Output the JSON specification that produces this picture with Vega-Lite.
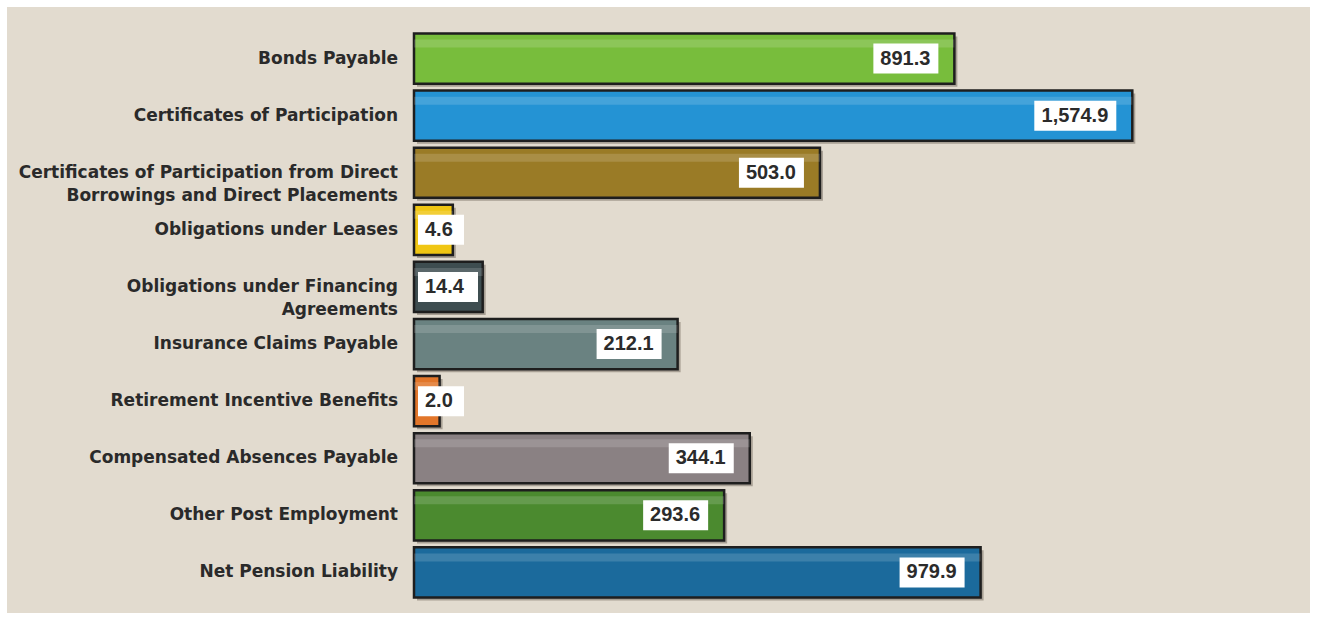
{
  "$schema": "https://vega.github.io/schema/vega-lite/v6.json",
  "width": 1317,
  "height": 620,
  "autosize": "none",
  "padding": 0,
  "background": "#ffffff",
  "config": {"view": {"fill": "#e2dbcf", "stroke": "#ffffff", "strokeWidth": 14}},
  "data": {"values": [
    {"category": "Bonds  Payable", "value": 891.3},
    {"category": "Certificates of Participation", "value": 1574.9},
    {"category": "Certificates of Participation from Direct\nBorrowings and Direct Placements", "value": 503.0},
    {"category": "Obligations under Leases", "value": 4.6},
    {"category": "Obligations under Financing\nAgreements", "value": 14.4},
    {"category": "Insurance Claims Payable", "value": 212.1},
    {"category": "Retirement Incentive Benefits", "value": 2.0},
    {"category": "Compensated Absences Payable", "value": 344.1},
    {"category": "Other Post Employment", "value": 293.6},
    {"category": "Net Pension Liability", "value": 979.9}
  ]},
  "encoding": {
    "y": {"field": "category", "type": "nominal", "sort": null, "axis": null,
          "scale": {"range": [30, 601], "paddingInner": 0.12, "paddingOuter": 0.06}}
  },
  "layer": [
    {
      "mark": {"type": "bar", "color": "#3a3226", "opacity": 0.35, "xOffset": 3, "x2Offset": 3, "yOffset": 3},
      "encoding": {
        "x": {"field": "value", "type": "quantitative", "axis": null,
              "scale": {"type": "sqrt", "domain": [0, 1600], "range": [414, 1138]}}
      }
    },
    {
      "mark": {"type": "bar", "stroke": "#1e1e1e", "strokeWidth": 2.5},
      "encoding": {
        "x": {"field": "value", "type": "quantitative"},
        "color": {"field": "category", "type": "nominal", "legend": null,
          "scale": {
            "domain": ["Bonds  Payable", "Certificates of Participation", "Certificates of Participation from Direct\nBorrowings and Direct Placements", "Obligations under Leases", "Obligations under Financing\nAgreements", "Insurance Claims Payable", "Retirement Incentive Benefits", "Compensated Absences Payable", "Other Post Employment", "Net Pension Liability"],
            "range": ["#78bd3c", "#2493d4", "#9a7b26", "#f0c613", "#3e4d50", "#6a8281", "#e2762a", "#8a8183", "#4b8a2f", "#1b6a9c"]
          }}
      }
    },
    {
      "mark": {"type": "bar", "height": 8, "yOffset": -15, "color": "#ffffff", "opacity": 0.15},
      "encoding": {"x": {"field": "value", "type": "quantitative"}}
    },
    {
      "transform": [{"filter": "datum.value >= 100 && datum.value < 1000"}],
      "mark": {"type": "bar", "color": "#ffffff", "height": 30, "xOffset": -81, "x2Offset": -16},
      "encoding": {
        "x": {"field": "value", "type": "quantitative"},
        "x2": {"field": "value"}
      }
    },
    {
      "transform": [{"filter": "datum.value >= 1000"}],
      "mark": {"type": "bar", "color": "#ffffff", "height": 30, "xOffset": -98, "x2Offset": -16},
      "encoding": {
        "x": {"field": "value", "type": "quantitative"},
        "x2": {"field": "value"}
      }
    },
    {
      "transform": [{"filter": "datum.value >= 100"}],
      "mark": {"type": "text", "align": "right", "baseline": "middle", "dx": -24, "font": "Liberation Sans", "fontWeight": "bold", "fontSize": 20, "color": "#2b2b2b"},
      "encoding": {
        "x": {"field": "value", "type": "quantitative"},
        "text": {"field": "value", "type": "quantitative", "format": ",.1f"}
      }
    },
    {
      "transform": [{"filter": "datum.value < 10"}],
      "mark": {"type": "bar", "color": "#ffffff", "height": 30, "xOffset": 4, "x2Offset": 50},
      "encoding": {
        "x": {"datum": 0},
        "x2": {"datum": 0}
      }
    },
    {
      "transform": [{"filter": "datum.value >= 10 && datum.value < 100"}],
      "mark": {"type": "bar", "color": "#ffffff", "height": 30, "xOffset": 4, "x2Offset": 64},
      "encoding": {
        "x": {"datum": 0},
        "x2": {"datum": 0}
      }
    },
    {
      "transform": [{"filter": "datum.value < 100"}],
      "mark": {"type": "text", "align": "left", "baseline": "middle", "dx": 11, "font": "Liberation Sans", "fontWeight": "bold", "fontSize": 20, "color": "#2b2b2b"},
      "encoding": {
        "x": {"datum": 0},
        "text": {"field": "value", "type": "quantitative", "format": ",.1f"}
      }
    },
    {
      "mark": {"type": "text", "align": "right", "baseline": "middle", "dx": -16, "font": "DejaVu Sans", "fontWeight": "bold", "fontSize": 17, "color": "#2a2a2a", "lineBreak": "\n", "lineHeight": 23},
      "encoding": {
        "x": {"datum": 0},
        "text": {"field": "category", "type": "nominal"}
      }
    }
  ]
}
